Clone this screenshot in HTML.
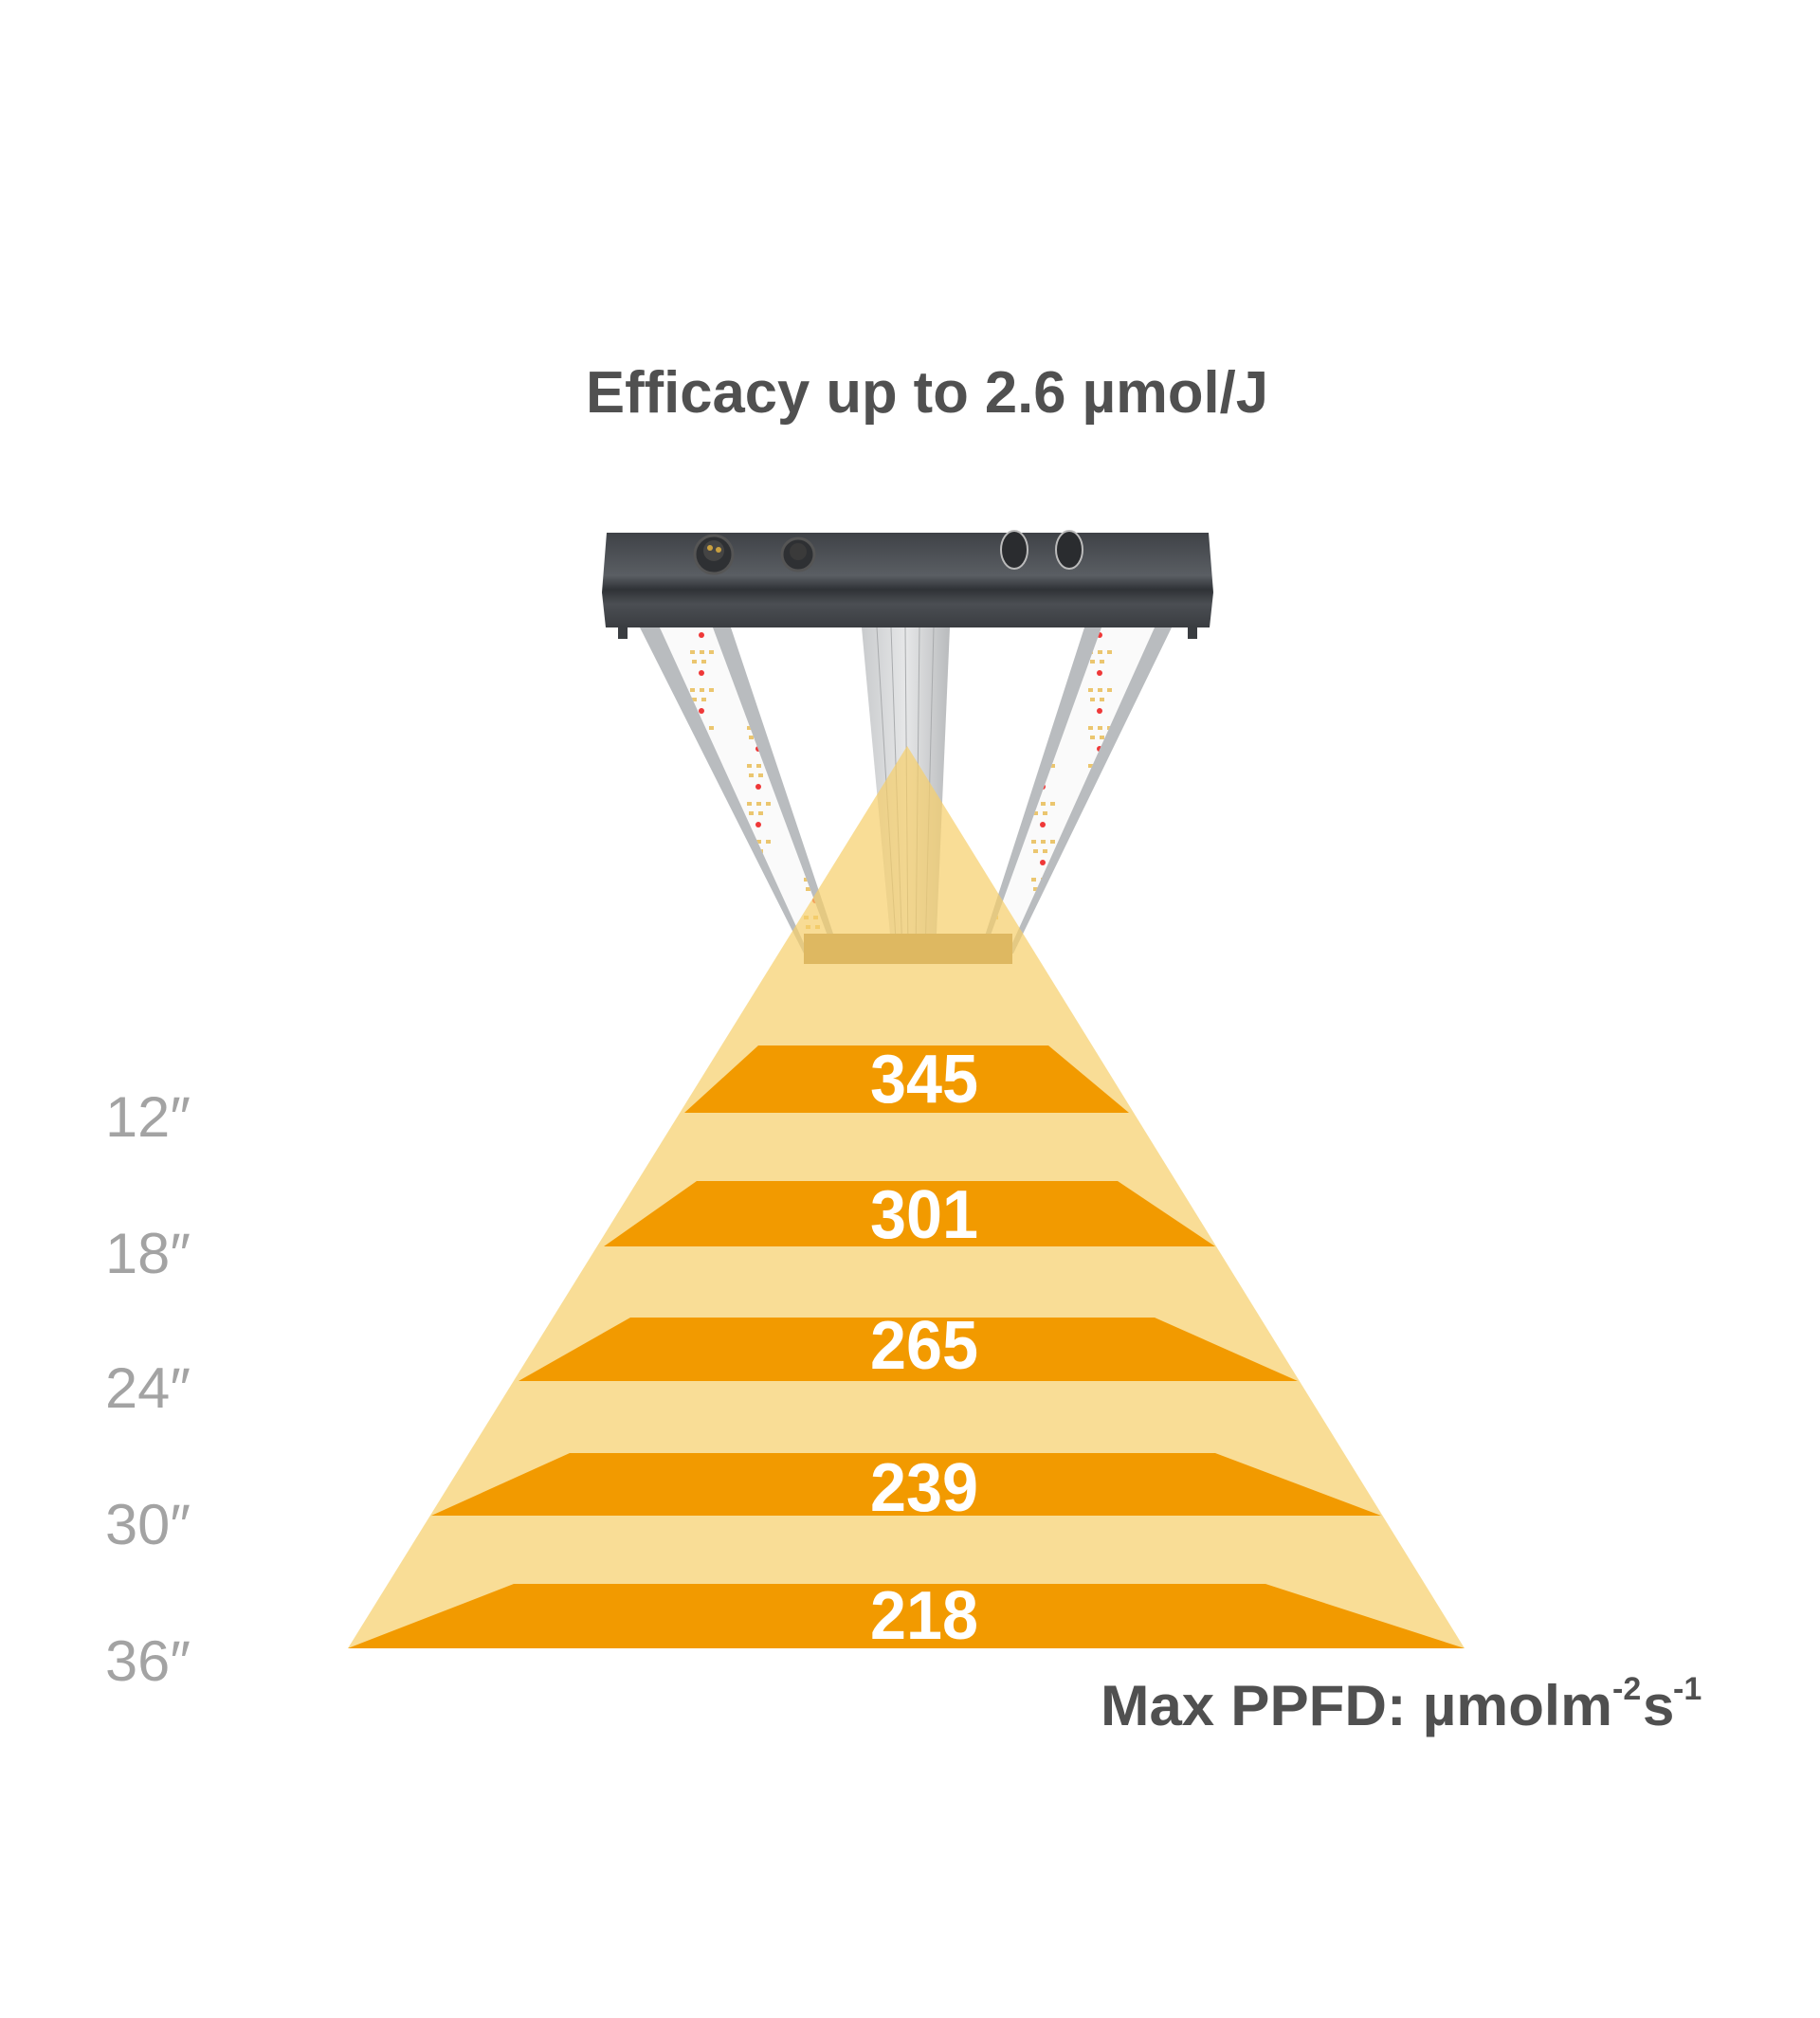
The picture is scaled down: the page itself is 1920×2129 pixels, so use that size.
<!DOCTYPE html>
<html><head><meta charset="utf-8"><style>
html,body{margin:0;padding:0;background:#fff;}
svg{display:block;}
</style></head><body>
<svg width="1920" height="2129" viewBox="0 0 1920 2129" xmlns="http://www.w3.org/2000/svg">
<defs>
<linearGradient id="hous" x1="0" y1="0" x2="0" y2="1">
<stop offset="0" stop-color="#3f4247"/><stop offset="0.45" stop-color="#5a5e63"/><stop offset="0.6" stop-color="#2f3236"/><stop offset="0.75" stop-color="#4b4e53"/><stop offset="1" stop-color="#3a3d41"/>
</linearGradient>
<linearGradient id="fin" x1="0" y1="0" x2="1" y2="0">
<stop offset="0" stop-color="#c9cbcd"/><stop offset="0.5" stop-color="#e6e7e8"/><stop offset="1" stop-color="#b9bbbd"/>
</linearGradient>
<pattern id="led" width="60" height="40" patternUnits="userSpaceOnUse">
<rect x="8" y="6" width="5" height="4" fill="#e9c060"/><rect x="18" y="6" width="5" height="4" fill="#e9c060"/><rect x="28" y="6" width="5" height="4" fill="#e9c060"/>
<rect x="10" y="16" width="5" height="4" fill="#e9c060"/><rect x="20" y="16" width="5" height="4" fill="#e9c060"/>
<circle cx="20" cy="30" r="3" fill="#e22"/>
</pattern>
</defs>
<rect width="1920" height="2129" fill="#fff"/>
<text x="978" y="435" text-anchor="middle" font-family="Liberation Sans, sans-serif" font-weight="bold" font-size="62" fill="#505050" textLength="720" lengthAdjust="spacingAndGlyphs">Efficacy up to 2.6 µmol/J</text>

<!-- left bar -->
<polygon points="675,662 771,662 886,1006 848,1006" fill="#b9bcbf"/>
<polygon points="696,662 752,662 880,1006 853,1006" fill="#fafafa"/>
<polygon points="696,662 752,662 880,1006 853,1006" fill="url(#led)" opacity="0.9"/>
<!-- right bar -->
<polygon points="1144,662 1236,662 1069,1006 1033,1006" fill="#b9bcbf"/>
<polygon points="1162,662 1218,662 1063,1006 1038,1006" fill="#fafafa"/>
<polygon points="1162,662 1218,662 1063,1006 1038,1006" fill="url(#led)" opacity="0.9"/>
<!-- heatsink -->
<polygon points="909,662 1002,662 987,1008 941,1008" fill="url(#fin)"/>
<g stroke="#a9abad" stroke-width="1">
<line x1="925" y1="662" x2="946" y2="1008"/><line x1="940" y1="662" x2="952" y2="1008"/><line x1="955" y1="662" x2="958" y2="1008"/><line x1="970" y1="662" x2="966" y2="1008"/><line x1="985" y1="662" x2="976" y2="1008"/>
</g>
<!-- crossbar -->
<rect x="848" y="985" width="220" height="32" fill="#a5844d"/>
<!-- housing -->
<path d="M640,562 L1275,562 L1280,625 L1276,662 L639,662 L635,625 Z" fill="url(#hous)"/>
<rect x="652" y="660" width="10" height="14" fill="#3a3d41"/>
<rect x="1253" y="660" width="10" height="14" fill="#3a3d41"/>
<circle cx="753" cy="585" r="20" fill="#2e3033" stroke="#555" stroke-width="3"/>
<circle cx="753" cy="581" r="11" fill="#444"/><circle cx="749" cy="578" r="3" fill="#c9a040"/><circle cx="758" cy="580" r="3" fill="#c9a040"/>
<circle cx="842" cy="585" r="17" fill="#2e3033" stroke="#555" stroke-width="3"/>
<circle cx="842" cy="582" r="9" fill="#3a3a3a"/>
<ellipse cx="1070" cy="580" rx="14" ry="20" fill="#2a2c2f" stroke="#bbb" stroke-width="2"/>
<ellipse cx="1128" cy="580" rx="14" ry="20" fill="#2a2c2f" stroke="#bbb" stroke-width="2"/>

<!-- light pyramid -->
<polygon points="957,787 1545,1739 367,1739" fill="#f6cf6a" opacity="0.7"/>
<!-- bands -->
<g fill="#f29a00">
<polygon points="800,1103 1106,1103 1191,1174 722,1174"/>
<polygon points="735,1246 1179,1246 1282,1315 637,1315"/>
<polygon points="665,1390 1218,1390 1369,1457 547,1457"/>
<polygon points="601,1533 1282,1533 1457,1599 455,1599"/>
<polygon points="542,1671 1335,1671 1545,1739 367,1739"/>
</g>
<g font-family="Liberation Sans, sans-serif" font-weight="bold" font-size="72" fill="#fff" text-anchor="middle">
<text x="975" y="1163" textLength="114" lengthAdjust="spacingAndGlyphs">345</text>
<text x="975" y="1306" textLength="114" lengthAdjust="spacingAndGlyphs">301</text>
<text x="975" y="1444" textLength="114" lengthAdjust="spacingAndGlyphs">265</text>
<text x="975" y="1594" textLength="114" lengthAdjust="spacingAndGlyphs">239</text>
<text x="975" y="1729" textLength="114" lengthAdjust="spacingAndGlyphs">218</text>
</g>
<g font-family="Liberation Sans, sans-serif" font-size="60" fill="#a3a3a3">
<text x="111" y="1199" textLength="90" lengthAdjust="spacingAndGlyphs">12″</text>
<text x="111" y="1343" textLength="90" lengthAdjust="spacingAndGlyphs">18″</text>
<text x="111" y="1485" textLength="90" lengthAdjust="spacingAndGlyphs">24″</text>
<text x="111" y="1629" textLength="90" lengthAdjust="spacingAndGlyphs">30″</text>
<text x="111" y="1773" textLength="90" lengthAdjust="spacingAndGlyphs">36″</text>
</g>
<text x="1161" y="1820" font-family="Liberation Sans, sans-serif" font-weight="bold" font-size="60" fill="#505050" textLength="540" lengthAdjust="spacingAndGlyphs">Max PPFD: µmolm</text>
<text x="1701" y="1793" font-family="Liberation Sans, sans-serif" font-weight="bold" font-size="34" fill="#505050">-2</text>
<text x="1733" y="1820" font-family="Liberation Sans, sans-serif" font-weight="bold" font-size="60" fill="#505050">s</text>
<text x="1765" y="1793" font-family="Liberation Sans, sans-serif" font-weight="bold" font-size="34" fill="#505050">-1</text>
</svg>
</body></html>
